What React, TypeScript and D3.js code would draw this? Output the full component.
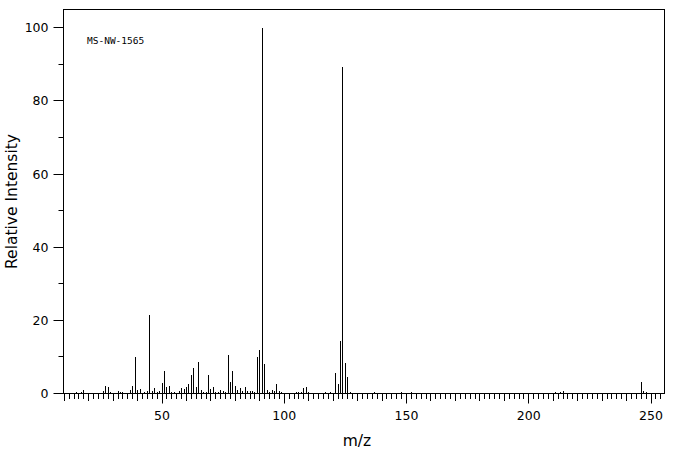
import * as d3 from 'd3';

// m/z values and relative intensities
const masses = [
  15, 17, 18, 26, 27, 28, 29, 32, 33, 34, 37, 38, 39, 40, 41, 43, 44, 45, 46, 47, 48, 49,
  50, 51, 52, 53, 54, 55, 57, 58, 59, 60, 61, 62, 63, 64, 65, 66, 67, 68, 69, 70, 71, 72,
  73, 74, 75, 76, 77, 78, 79, 80, 81, 82, 83, 84, 85, 86, 87, 88, 89, 90, 91, 92, 93, 94,
  95, 96, 97, 98, 99, 105, 106, 107, 108, 109, 110, 117, 119, 121, 122, 123, 124, 125, 126,
  127, 137, 148, 152, 211, 213, 214, 246, 247, 248,
];
const intensities = [
  0.4, 0.3, 0.9, 0.7, 2.0, 1.7, 0.4, 0.6, 0.4, 0.4, 0.9, 2.0, 10.0, 0.9, 1.2, 0.4, 0.6, 21.4, 0.6, 1.5, 0.4, 0.6,
  2.8, 6.1, 1.7, 2.0, 0.4, 0.4, 0.6, 1.5, 1.2, 1.7, 2.6, 5.0, 6.9, 1.7, 8.6, 0.9, 0.4, 0.4, 5.0, 1.2, 1.7, 0.4,
  0.4, 0.9, 0.6, 0.4, 10.5, 3.1, 6.1, 2.0, 0.9, 1.5, 0.6, 1.7, 0.6, 0.6, 0.6, 0.4, 9.9, 11.8, 100, 8.0, 0.9, 0.4,
  0.9, 0.6, 2.6, 0.6, 0.4, 0.4, 0.4, 0.4, 1.5, 1.7, 0.4, 0.4, 0.4, 5.6, 2.6, 14.3, 89.2, 8.3, 4.5,
  0.4, 0.4, 0.4, 0.4, 0.4, 0.4, 0.6, 3.1, 0.6, 0.4,
];
const yTickLabels = [0, 20, 40, 60, 80, 100];
const sampleName = 'MS-NW-1565';

const W = 676;
const H = 455;
const left = 63.5;
const right = 664.5;
const top = 9.5;
const bottom = 393.5;

// snap to pixel centres so 1px lines stay 1px
const px = (v: number) => Math.round(v - 0.5) + 0.5;

export default function App() {
  const x = d3.scaleLinear().domain([9.7, 255.5]).range([left, right]);
  const y = d3.scaleLinear().domain([0, 105]).range([bottom, top]);

  const xMinor = d3.range(10, 256, 2);
  const yMinor = d3.range(10, 100, 20);
  const peaks = masses.map((m, i) => ({ m, v: intensities[i] }));

  return (
    <svg
      width={W}
      height={H}
      style={{ position: 'absolute', left: 0, top: 0, background: '#fff' }}
      fontFamily="DejaVu Sans"
    >
      <rect x={0} y={0} width={W} height={H} fill="#fff" />

      {/* peaks */}
      <g stroke="#000" strokeWidth={1}>
        {peaks.map(p => (
          <line key={p.m} x1={px(x(p.m))} x2={px(x(p.m))} y1={bottom} y2={Math.round(y(p.v))} />
        ))}
      </g>

      {/* frame */}
      <rect
        x={left}
        y={top}
        width={right - left}
        height={bottom - top}
        fill="none"
        stroke="#000"
        strokeWidth={1}
      />

      {/* x ticks */}
      <g stroke="#000" strokeWidth={1}>
        {xMinor.map(t => {
          const len = t % 50 === 0 ? 10 : t % 10 === 0 ? 7.5 : 5.5;
          return <line key={t} x1={px(x(t))} x2={px(x(t))} y1={bottom} y2={bottom + len} />;
        })}
      </g>
      <g fontSize={12.5} textAnchor="middle" fill="#000">
        {d3.range(50, 251, 50).map(t => (
          <text key={t} x={x(t)} y={420}>
            {t}
          </text>
        ))}
      </g>

      {/* y ticks */}
      <g stroke="#000" strokeWidth={1}>
        {yTickLabels.map(t => (
          <line key={t} x1={left - 10} x2={left} y1={px(y(t))} y2={px(y(t))} />
        ))}
        {yMinor.map(t => (
          <line key={t} x1={left - 5} x2={left} y1={px(y(t))} y2={px(y(t))} />
        ))}
      </g>
      <g fontSize={12.5} textAnchor="end" fill="#000">
        {yTickLabels.map(t => (
          <text key={t} x={48.5} y={y(t) + 4.5}>
            {t}
          </text>
        ))}
      </g>

      {/* axis titles */}
      <text x={357} y={446} fontSize={15.5} textAnchor="middle" fill="#000">
        m/z
      </text>
      <text
        transform={`translate(17, ${(top + bottom) / 2}) rotate(-90)`}
        fontSize={15.5}
        textAnchor="middle"
        fill="#000"
      >
        Relative Intensity
      </text>

      <text x={87} y={44} fontSize={9.5} fontFamily="DejaVu Sans Mono" fill="#000">
        {sampleName}
      </text>
    </svg>
  );
}
